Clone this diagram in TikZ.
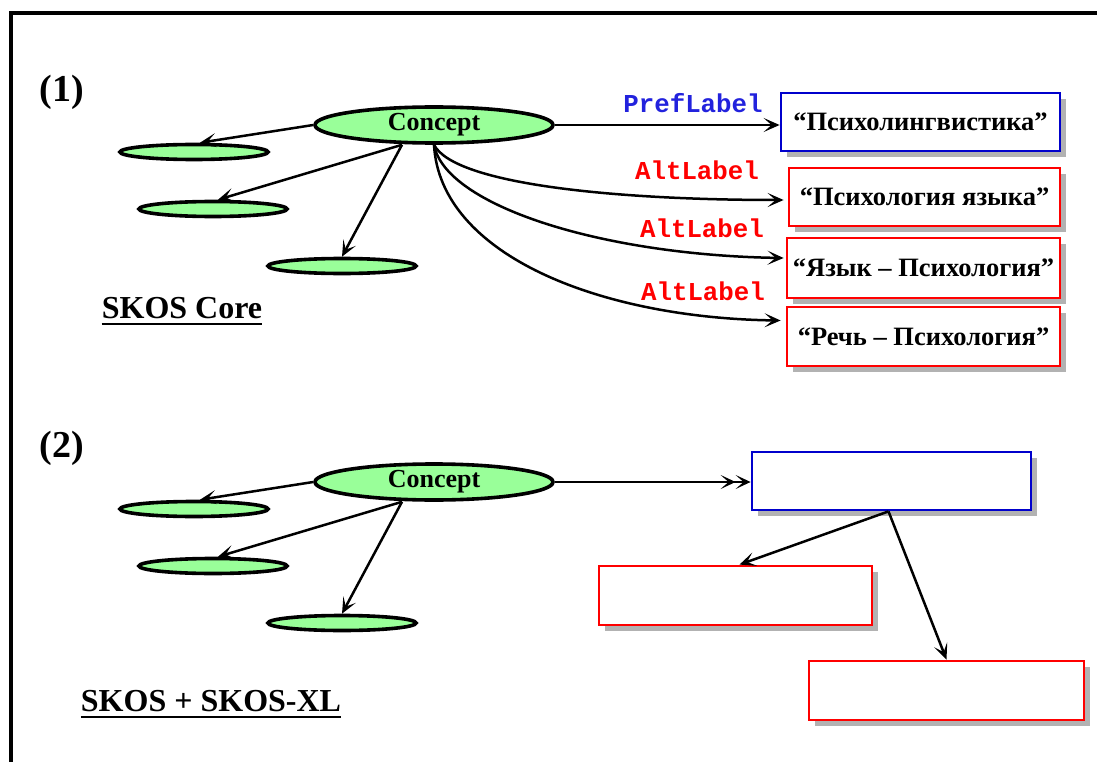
\documentclass[tikz,border=0pt]{standalone}
\usepackage{fontspec}
\setmainfont{Liberation Serif}
\setmonofont{Liberation Mono}
\usetikzlibrary{shapes.geometric,arrows.meta,shadows,calc}
\definecolor{cgreen}{HTML}{99FF99}
\definecolor{pblue}{HTML}{0000CC}
\definecolor{lblue}{HTML}{2222DD}
\definecolor{rred}{HTML}{FF0000}
\tikzset{
  x=1pt, y=-1pt,
  tip/.style={-{Stealth[length=16pt,width=14pt,inset=8pt]}},
  dtip/.style={-{Stealth[length=15pt,width=14pt,inset=8pt]Stealth[length=15pt,width=14pt,inset=8pt]}},
  link/.style={draw=black, line width=2.5pt, tip},
  bigell/.style={ellipse, draw=black, line width=3.6pt, fill=cgreen, minimum width=238pt, minimum height=36pt, inner sep=0pt,
    font=\fontsize{26}{28}\selectfont\bfseries},
  smallell/.style={ellipse, draw=black, line width=3.6pt, fill=cgreen, minimum width=148pt, minimum height=15pt, inner sep=0pt},
  labelbox/.style={rectangle, draw, line width=2.8pt, fill=white, inner sep=0pt,
    drop shadow={shadow xshift=6pt, shadow yshift=-6pt, fill=black, opacity=0.3},
    font=\fontsize{26.5}{28}\selectfont\bfseries},
  prefbox/.style={labelbox, draw=pblue},
  altbox/.style={labelbox, draw=rred},
  reltext/.style={font=\fontsize{25.8}{28}\selectfont\ttfamily\bfseries, inner sep=0pt},
  paneltag/.style={font=\fontsize{38}{40}\selectfont\bfseries, inner sep=0pt},
  heading/.style={font=\fontsize{32}{36}\selectfont\bfseries, inner sep=0pt, anchor=base}
}
\begin{document}
\begin{tikzpicture}
\useasboundingbox (0,0) rectangle (1097,762);
% frame
\draw[line width=3.2pt] (1097,13) -- (11,13) -- (11,762);

% ---------- panel (1): SKOS Core ----------
\node[paneltag] (t1) at (62,92) {(1)};
\node[bigell] (c1) at (434,125) {Concept};
\node[smallell] (a1) at (194,152) {};
\node[smallell] (a2) at (213,209) {};
\node[smallell] (a3) at (342,266) {};
\draw[link] (c1.west) -- ([xshift=6pt]a1.north);
\draw[link] ([xshift=-32pt]c1.south) -- ([xshift=5pt]a2.north);
\draw[link] ([xshift=-32pt]c1.south) -- (a3.north);

\node[prefbox, minimum width=279pt, minimum height=58pt] (p1) at (920.5,122) {“Психолингвистика”};
\node[altbox, minimum width=271pt, minimum height=58pt] (q1) at (924.5,197) {“Психология языка”};
\node[altbox, minimum width=273pt, minimum height=60pt] (q2) at (923.5,268) {“Язык – Психология”};
\node[altbox, minimum width=273pt, minimum height=59pt] (q3) at (923.5,336.5) {“Речь – Психология”};

\draw[link] (c1.east) -- (c1.east -| p1.west);
\draw[link] (c1.south) .. controls (455,185) and (620,200) .. ([yshift=-3pt,xshift=-4pt]q1.west);
\draw[link] (c1.south) .. controls (445,205) and (600,255) .. ([yshift=10pt,xshift=-2pt]q2.west);
\draw[link] (c1.south) .. controls (440,255) and (600,318) .. ([yshift=16pt,xshift=-5pt]q3.west);

\node[reltext, text=lblue] (r1) at (693,103) {PrefLabel};
\node[reltext, text=rred] (r2) at (697,170) {AltLabel};
\node[reltext, text=rred] (r3) at (702,228) {AltLabel};
\node[reltext, text=rred] (r4) at (703,291) {AltLabel};

\node[heading] (h1) at (182,318) {SKOS Core};
\draw[line width=2.8pt] ($(h1.base west)+(0,6)$) -- ($(h1.base east)+(0,6)$);

% ---------- panel (2): SKOS + SKOS-XL ----------
\node[paneltag] (t2) at (62,448) {(2)};
\node[bigell] (c2) at (434,482) {Concept};
\node[smallell] (b1) at (194,509) {};
\node[smallell] (b2) at (213,566) {};
\node[smallell] (b3) at (342,623) {};
\draw[link] (c2.west) -- ([xshift=6pt]b1.north);
\draw[link] ([xshift=-32pt]c2.south) -- ([xshift=5pt]b2.north);
\draw[link] ([xshift=-32pt]c2.south) -- (b3.north);

\node[prefbox, minimum width=279pt, minimum height=58pt] (p2) at (891.5,481) {};
\node[altbox, minimum width=273pt, minimum height=59pt] (s1) at (735.5,595.5) {};
\node[altbox, minimum width=275pt, minimum height=59pt] (s2) at (946.5,690.5) {};

\draw[link, dtip] (c2.east) -- (c2.east -| p2.west);
\draw[link] ([xshift=-3pt]p2.south) -- ([xshift=4pt]s1.north);
\draw[link] ([xshift=-3pt]p2.south) -- (s2.north);

\node[heading] (h2) at (211,711) {SKOS + SKOS-XL};
\draw[line width=2.8pt] ($(h2.base west)+(0,6)$) -- ($(h2.base east)+(0,6)$);
\end{tikzpicture}
\end{document}
